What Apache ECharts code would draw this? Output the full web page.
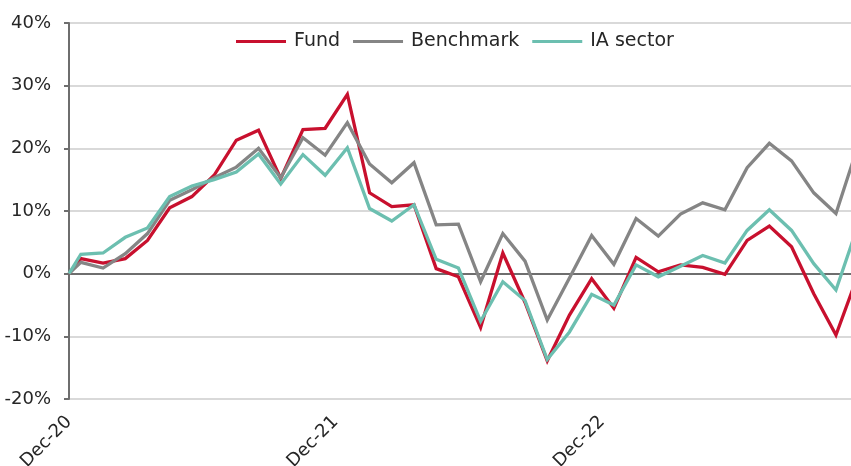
<!DOCTYPE html>
<html>
<head>
<meta charset="utf-8">
<script src="https://cdn.jsdelivr.net/npm/echarts@6/dist/echarts.min.js"></script>
<style>
html,body{margin:0;padding:0;background:#fff;}
#chart{width:851px;height:466px;}
</style>
</head>
<body>
<div id="chart"></div>
<script>
// Observation dates (first = start point, then monthly)
var dates = [
  "2020-12-01",
  "2020-12-17","2021-01-17","2021-02-17","2021-03-17","2021-04-17","2021-05-17",
  "2021-06-17","2021-07-17","2021-08-17","2021-09-17","2021-10-17","2021-11-17",
  "2021-12-17","2022-01-17","2022-02-17","2022-03-17","2022-04-17","2022-05-17",
  "2022-06-17","2022-07-17","2022-08-17","2022-09-17","2022-10-17","2022-11-17",
  "2022-12-17","2023-01-17","2023-02-17","2023-03-17","2023-04-17","2023-05-17",
  "2023-06-17","2023-07-17","2023-08-17","2023-09-17","2023-10-17","2023-11-17"
];
var fund = [0, 2.4, 1.7, 2.4, 5.3, 10.5, 12.3, 15.7, 21.3, 22.9, 15.2, 23.0, 23.2, 28.6, 12.9, 10.7, 11.0, 0.8, -0.5, -8.6, 3.3, -4.6, -13.9, -6.6, -0.8, -5.5, 2.6, 0.3, 1.4, 1.0, -0.1, 5.3, 7.6, 4.3, -3.2, -9.8, -0.1];
var benchmark = [0, 1.8, 0.9, 3.2, 6.4, 11.7, 13.4, 15.3, 17.0, 20.0, 15.3, 21.7, 18.9, 24.1, 17.5, 14.5, 17.7, 7.8, 7.9, -1.3, 6.4, 2.0, -7.4, -0.7, 6.1, 1.5, 8.8, 6.0, 9.5, 11.3, 10.2, 16.9, 20.8, 18.0, 12.9, 9.6, 20.5];
var iaSector = [0, 3.1, 3.3, 5.8, 7.3, 12.3, 14.0, 15.0, 16.2, 19.1, 14.3, 19.0, 15.7, 20.1, 10.4, 8.4, 11.0, 2.3, 0.9, -7.6, -1.3, -4.3, -13.7, -9.3, -3.3, -5.0, 1.4, -0.5, 1.2, 2.9, 1.7, 6.9, 10.2, 6.9, 1.6, -2.6, 7.8];
var seriesNames = ["Fund", "Benchmark", "IA sector"];
var yTicks = [-20, -10, 0, 10, 20, 30, 40];
var xTickLabels = ["Dec-20", "Dec-21", "Dec-22", "Dec-23"];

// months elapsed since 1 Dec 2020
function monthsSinceStart(d) {
  var p = d.split("-").map(Number);
  return (p[0] - 2020) * 12 + (p[1] - 12) + (p[2] - 1) / 30;
}
function pairs(vals) {
  return vals.map(function (v, i) { return [monthsSinceStart(dates[i]), v]; });
}

var colors = ["#c8102e", "#858585", "#6cbfb0"];
var gridColors = yTicks.map(function (t) { return t === 0 ? "#6e6e6e" : "#d9d9d9"; });
var font = "DejaVu Sans";

var chart = echarts.init(document.getElementById("chart"), null, {renderer: "canvas"});
chart.setOption({
  animation: false,
  backgroundColor: "#ffffff",
  color: colors,
  grid: {left: 69, right: 0, top: 23, bottom: 67, containLabel: false, outerBoundsMode: "none"},
  legend: {
    top: 27, left: 231,
    icon: "rect", itemWidth: 50, itemHeight: 3, itemGap: 13,
    textStyle: {fontFamily: font, fontSize: 19, color: "#262626", padding: [0, 0, 0, 3]},
    data: seriesNames
  },
  xAxis: {
    type: "value", min: 0, max: 35.21, interval: 12,
    axisLine: {show: false}, axisTick: {show: false}, splitLine: {show: false},
    axisLabel: {
      rotate: 45, margin: 20, showMaxLabel: false,
      fontFamily: font, fontSize: 18, color: "#262626",
      formatter: function (v) { return xTickLabels[Math.round(v / 12)]; }
    }
  },
  yAxis: {
    type: "value", min: -20, max: 40, interval: 10,
    axisLine: {show: true, lineStyle: {color: "#6e6e6e", width: 2}},
    axisTick: {show: true, length: 5, lineStyle: {color: "#6e6e6e", width: 2}},
    axisLabel: {margin: 18, fontFamily: font, fontSize: 18, color: "#262626", formatter: "{value}%"},
    splitLine: {show: true, lineStyle: {color: gridColors, width: 2}}
  },
  series: [
    {name: seriesNames[0], type: "line", data: pairs(fund), showSymbol: false, symbol: "none", lineStyle: {width: 3.3, join: "miter"}},
    {name: seriesNames[1], type: "line", data: pairs(benchmark), showSymbol: false, symbol: "none", lineStyle: {width: 3.3, join: "miter"}},
    {name: seriesNames[2], type: "line", data: pairs(iaSector), showSymbol: false, symbol: "none", lineStyle: {width: 3.3, join: "miter"}}
  ]
});
</script>
</body>
</html>
